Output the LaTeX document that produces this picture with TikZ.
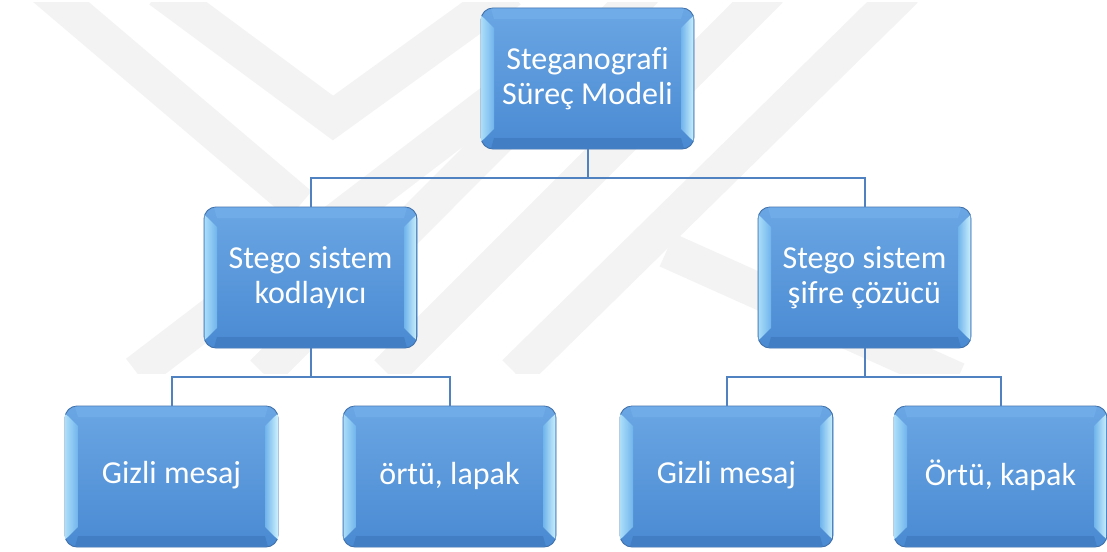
\documentclass[tikz,border=0pt]{standalone}
\usepackage{fontspec}
\setmainfont{Carlito}[Ligatures=NoCommon]
\definecolor{wm}{RGB}{243,243,243}
\definecolor{connc}{RGB}{80,130,194}
\definecolor{bord}{RGB}{64,112,170}
\definecolor{bodyT}{RGB}{106,166,228}
\definecolor{bodyB}{RGB}{74,138,210}
\definecolor{bevTop}{RGB}{112,172,232}
\definecolor{bevBot}{RGB}{66,126,196}
\definecolor{bevL}{RGB}{168,220,248}
\definecolor{bevLi}{RGB}{112,180,236}
\definecolor{bevR}{RGB}{200,238,252}
\newcommand\bevelbox[1]{%
  \begin{scope}[shift={(#1.south west)}, x=1pt, y=1pt]
    \fill[bevTop] (10,140.4) -- (203,140.4) -- (200,130) -- (13,130) -- cycle;
    \fill[bevBot] (10,0.6) -- (203,0.6) -- (200,11) -- (13,11) -- cycle;
    \shade[left color=bevL, right color=bevLi] (0.7,8) -- (13,20) -- (13,121) -- (0.7,133) -- cycle;
    \shade[left color=bevLi, right color=bevR] (212.3,8) -- (200,20) -- (200,121) -- (212.3,133) -- cycle;
  \end{scope}}
\begin{document}
\begin{tikzpicture}[x=1pt,y=-1pt,
  box/.style={draw=bord, line width=0.9pt, rounded corners=12pt,
    minimum width=213pt, minimum height=141pt, inner sep=0pt, outer sep=0pt,
    top color=bodyT, bottom color=bodyB},
  lbl/.style={text=white, align=center, font=\fontsize{32}{35}\selectfont},
  conn/.style={draw=connc, line width=2pt},
  wmband/.style={draw=wm, line width=36pt, line join=miter}]
\useasboundingbox (0,0) rectangle (1107,551);
\fill[white] (0,0) rectangle (1107,551);
% faint watermark
\begin{scope}
  \clip (0,3) rectangle (1107,373);
  \draw[wmband] (35,-20) -- (300,205);
  \draw[wmband] (160,-10) -- (333,118) -- (510,-10);
  \draw[wmband] (137,373) -- (560,50);
  \draw[wmband] (263,373) -- (645,-10);
  \draw[wmband] (770,-10) -- (387,373);
  \draw[wmband] (515,373) -- (905,-10);
  \draw[wmband] (667,250) -- (957,380);
\end{scope}
% nodes
\node[box] (top) at (587.5,78.5) {};
\node[box] (L) at (310.5,277.5) {};
\node[box] (R) at (864.5,277.5) {};
\node[box] (B1) at (171.5,476.5) {};
\node[box] (B2) at (449.5,476.5) {};
\node[box] (B3) at (726.5,476.5) {};
\node[box] (B4) at (1000.5,476.5) {};
\foreach \n in {top,L,R,B1,B2,B3,B4} {\bevelbox{\n}}
\node[lbl] (ttop) at (top) {Steganografi\\Süreç Modeli};
\node[lbl] (tL) at (L) {Stego sistem\\kodlayıcı};
\node[lbl] (tR) at (R) {Stego sistem\\şifre çözücü};
\node[lbl] (tB1) at ([yshift=1pt]B1) {Gizli mesaj};
\node[lbl] (tB2) at ([yshift=1pt]B2) {örtü, lapak};
\node[lbl] (tB3) at ([yshift=1pt]B3) {Gizli mesaj};
\node[lbl] (tB4) at ([yshift=1pt]B4) {Örtü, kapak};
% connectors
\coordinate (j1) at (587.5,178);
\coordinate (j2) at (310.5,377);
\coordinate (j3) at (864.5,377);
\draw[conn] (top.south) -- (j1);
\draw[conn] (j1) -| (L.north);
\draw[conn] (j1) -| (R.north);
\draw[conn] (L.south) -- (j2);
\draw[conn] (j2) -| (B1.north);
\draw[conn] (j2) -| (B2.north);
\draw[conn] (R.south) -- (j3);
\draw[conn] (j3) -| (B3.north);
\draw[conn] (j3) -| (B4.north);
\end{tikzpicture}
\end{document}
